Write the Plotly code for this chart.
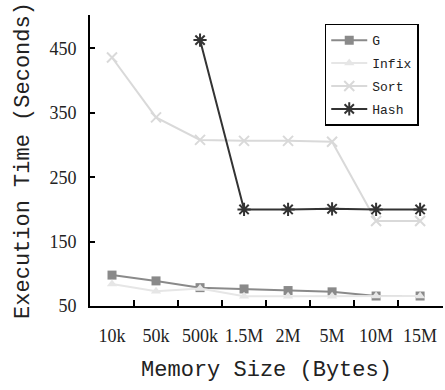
import plotly.graph_objects as go

# Memory budget categories (x axis)
memory_sizes = ["10k", "50k", "500k", "1.5M", "2M", "5M", "10M", "15M"]

# Execution time in seconds per algorithm
g_times = [98, 89, 78.5, 76.5, 74, 72, 65.5, 65.5]
infix_times = [84, 73, 77, 65, 65, 65, 65.5, 65.5]
sort_times = [436, 343, 308, 306.5, 306.5, 305, 182, 182]
hash_times = [None, None, 463, 200, 200, 201, 200, 200]

series = [
    ("G", g_times, "#8a8a8a", "square", 9, 0),
    ("Infix", infix_times, "#e6e6e6", "triangle-up", 9, 0),
    ("Sort", sort_times, "#d9d9d9", "x-thin-open", 10, 2),
    ("Hash", hash_times, "#333333", "asterisk-open", 11, 2),
]

fig = go.Figure()
for name, ys, color, symbol, size, mlw in series:
    fig.add_trace(go.Scatter(
        x=memory_sizes, y=ys, name=name, mode="lines+markers",
        line=dict(color=color, width=2),
        marker=dict(symbol=symbol, size=size, color=color,
                    line=dict(color=color, width=mlw)),
        legendgroup=name,
        connectgaps=False,
    ))

tick_font = dict(family="Liberation Serif", size=18, color="#222")
title_font = dict(family="Liberation Mono", size=22, color="#222")

fig.update_layout(
    width=445, height=390,
    margin=dict(l=90, r=2, t=15, b=84),
    plot_bgcolor="white", paper_bgcolor="white",
    showlegend=True,
    legend=dict(
        x=0.665, y=0.97, xanchor="left", yanchor="top",
        bordercolor="black", borderwidth=1.5, bgcolor="white",
        font=dict(family="Liberation Mono", size=13, color="#222"),
        traceorder="grouped", tracegroupgap=3,
        itemwidth=36,
    ),
    xaxis=dict(
        type="category", range=[-0.5, 7.52],
        showline=True, linecolor="black", linewidth=2,
        ticks="inside", ticklen=6, tickwidth=2, tickcolor="black",
        tickson="boundaries", showgrid=False, zeroline=False,
        tickangle=0,
        tickfont=tick_font, ticklabelstandoff=12,
        title=dict(text="Memory Size (Bytes)", font=title_font, standoff=16),
    ),
    yaxis=dict(
        range=[50, 502], tickvals=[50, 150, 250, 350, 450],
        showline=True, linecolor="black", linewidth=2,
        ticks="inside", ticklen=5, tickwidth=2, tickcolor="black",
        showgrid=False, zeroline=False,
        tickfont=tick_font, ticklabelstandoff=8,
        title=dict(text="Execution Time (Seconds)", font=title_font, standoff=14),
    ),
)

fig.write_html("out.html")
